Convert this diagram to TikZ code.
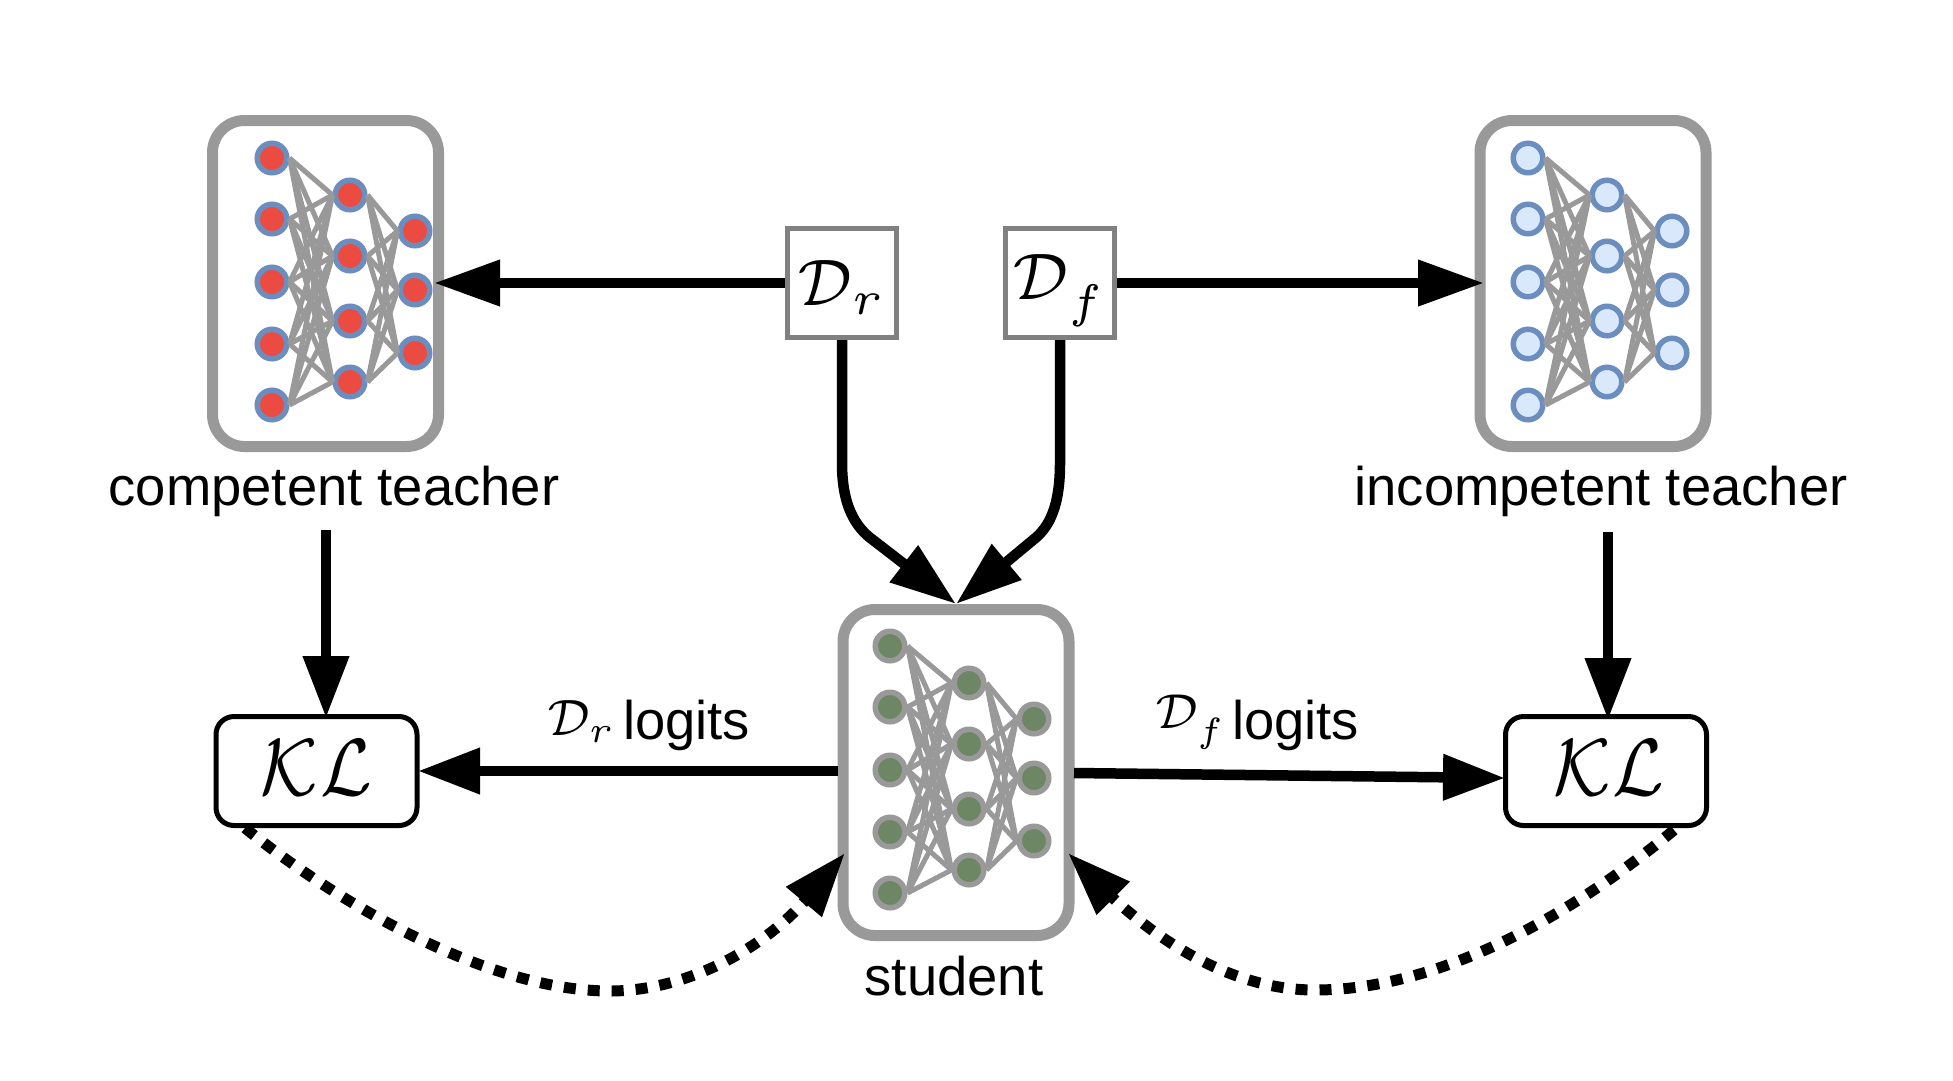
\documentclass[tikz,border=0pt]{standalone}
\usepackage{fontspec}
\usepackage{graphicx}
\setmainfont{Liberation Sans}
\usetikzlibrary{arrows.meta}
\definecolor{edgegray}{HTML}{999999}
\definecolor{boxgray}{HTML}{808080}
\definecolor{nodeblue}{HTML}{6C8EBF}
\definecolor{nodelight}{HTML}{DAE8FC}
\definecolor{nodered}{HTML}{EB4B41}
\definecolor{nodegreen}{HTML}{6D8764}
\newcommand{\smallmath}[3]{\scalebox{#1}[#2]{\fontsize{10}{10}\selectfont$\scriptstyle #3$}}
\newcommand{\lowf}{\raisebox{-1pt}{$\scriptscriptstyle f$}}
\tikzset{
  netbox/.style={draw=edgegray,line width=11pt,rounded corners=32pt,minimum width=226pt,minimum height=326pt,inner sep=0pt,fill=white},
  unit/.style={circle,line width=5.5pt,minimum size=29.5pt,inner sep=0pt},
  redunit/.style={unit,draw=nodeblue,fill=nodered},
  blueunit/.style={unit,draw=nodeblue,fill=nodelight},
  greenunit/.style={unit,draw=edgegray,fill=nodegreen},
  wire/.style={draw=edgegray,line width=5pt},
  databox/.style={draw=boxgray,line width=5pt,minimum width=109pt,minimum height=109pt,inner sep=0pt,fill=white},
  klbox/.style={draw=black,line width=5pt,rounded corners=18pt,minimum width=201pt,minimum height=109pt,inner sep=0pt,fill=white},
  lbl/.style={inner sep=0pt,outer sep=0pt,anchor=base,font=\fontsize{54.4}{54.4}\selectfont},
  flow/.style={line width=10.5pt,-{Triangle[length=62pt,width=44pt]}},
  longflow/.style={line width=10.5pt,-{Triangle[length=66pt,width=44pt]}},
  flowdot/.style={line width=11pt,dash pattern=on 12pt off 12pt,-{Triangle[length=64pt,width=44pt]}}
}
% net: prefix, x of columns, y offset, unit style
\newcommand{\netdraw}[6]{%
  \foreach \i/\yy in {1/158,2/219,3/282,4/344,5/405} \node[#6] (#1a\i) at (#2,\yy+#5) {};
  \foreach \i/\yy in {1/195,2/256,3/321,4/382} \node[#6] (#1b\i) at (#3,\yy+#5) {};
  \foreach \i/\yy in {1/231,2/290,3/353} \node[#6] (#1c\i) at (#4,\yy+#5) {};
  \foreach \i in {1,...,5} \foreach \j in {1,...,4} \draw[wire] (#1a\i.east) -- (#1b\j.west);
  \foreach \i in {1,...,4} \foreach \j in {1,...,3} \draw[wire] (#1b\i.east) -- (#1c\j.west);
}
\begin{document}
\begin{tikzpicture}[x=1pt,y=-1pt]
\useasboundingbox[fill=white] (0,0) rectangle (1953,1080);
% network boxes
\node[netbox] (good) at (325.5,283.5) {};
\node[netbox] (bad) at (1593,283.5) {};
\node[netbox] (student) at (956,772.5) {};
\netdraw{g}{272}{350}{415}{0}{redunit}
\netdraw{w}{1528}{1607}{1672}{0}{blueunit}
\netdraw{s}{890}{969}{1034}{488}{greenunit}
% data boxes
\node[databox,text height=54pt,text depth=10pt] (dr) at (842,283) {\smallmath{8.6}{9.4}{\mathcal{D}_r}\hspace{10pt}};
\node[databox,text height=50pt,text depth=18pt] (df) at (1060,283) {\smallmath{8.8}{9.4}{\mathcal{D}_{\lowf}}\hspace{12pt}};
% KL boxes
\node[klbox,text height=48pt,text depth=0pt] (kla) at (316.5,771) {\smallmath{9.7}{11.6}{\mathcal{KL}}\hspace{5pt}};
\node[klbox,text height=48pt,text depth=0pt] (klb) at (1606,771) {\hspace{6pt}\smallmath{9.7}{11.6}{\mathcal{KL}}};
% labels
\node[lbl] (tga) at (334,505) {competent teacher};
\node[lbl] (tgb) at (1601,505) {incompetent teacher};
\node[lbl] (tgs) at (954,995) {student};
\node[lbl,anchor=base west] (ldr) at (547,739) {\makebox[76pt][l]{\raisebox{4pt}{\smallmath{6.7}{7.3}{\mathcal{D}_r}}}logits};
\node[lbl,anchor=base west] (ldf) at (1155,739) {\makebox[77pt][l]{\raisebox{11pt}{\smallmath{6.7}{7.0}{\mathcal{D}_{\lowf}}}}logits};
% free ends
\coordinate (ina) at (434,283);
\coordinate (inb) at (1484,283);
\coordinate (outa) at (326,530);
\coordinate (enda) at (326,718);
\coordinate (outb) at (1608,532);
\coordinate (endb) at (1608,720);
\coordinate (inkla) at (418,771);
\coordinate (outsa) at (838,771);
\coordinate (inklb) at (1505,778);
\coordinate (outs) at (1074,773);
\coordinate (dota) at (245,828);
\coordinate (dotb) at (1674,830);
\coordinate (inla) at (845,853);
\coordinate (inlb) at (1068,853);
% connectors
\draw[longflow] (dr.west) -- (ina);
\draw[longflow] (df.east) -- (inb);
\draw[longflow] (dr.south) -- (842,463) .. controls (842,505) and (855,527) .. (873,540) -- (student.north);
\draw[longflow] (df.south) -- (1060,463) .. controls (1060,505) and (1050,527) .. (1033,540) -- (student.north);
\draw[flow] (outa) -- (enda);
\draw[flow] (outb) -- (endb);
\draw[flow] (outsa) -- (inkla);
\draw[flow] (outs) -- (inklb);
\draw[flowdot] (dota) .. controls (340,905) and (490,991) .. (610,991) .. controls (680,991) and (755,955) .. (803,903) -- (inla);
\draw[flowdot] (dotb) .. controls (1560,925) and (1430,990) .. (1315,990) .. controls (1240,990) and (1170,950) .. (1114,899) -- (inlb);
\end{tikzpicture}
\end{document}
